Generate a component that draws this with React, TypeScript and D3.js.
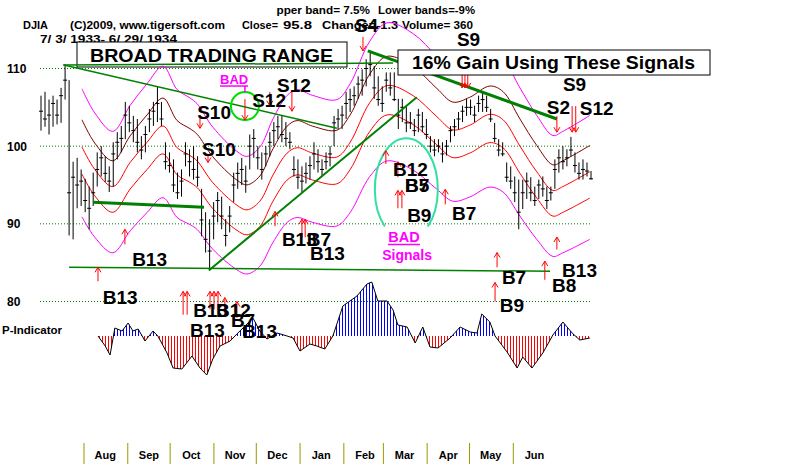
import React from "react";
import * as d3 from "d3";

// DJIA bars, 7/3/1933 - 6/29/1934
const highs = [
  106.5, 107.0, 106.0, 106.5, 106.0, 107.5, 110.5, 108.5, 98.0, 98.5,
  97.0, 95.8, 94.8, 96.6, 99.2, 100.0, 98.7, 97.4, 100.5, 101.8,
  102.6, 105.7, 105.2, 103.9, 103.5, 101.3, 102.6, 104.8, 105.7, 107.7,
  105.7, 100.5, 99.2, 98.3, 96.6, 97.0, 100.5, 99.6, 100.0, 98.7,
  94.5, 91.5, 90.6, 92.8, 94.1, 93.5, 90.6, 92.3, 96.6, 97.9,
  98.5, 97.5, 101.5, 102.2, 100.0, 99.2, 100.0, 101.8, 103.1, 103.9,
  103.9, 103.1, 101.8, 98.7, 98.3, 97.4, 97.9, 98.7, 100.5, 99.6,
  98.3, 99.2, 100.0, 103.9, 104.8, 105.2, 107.0, 107.4, 107.7, 109.0,
  109.9, 111.2, 112.3, 110.3, 109.0, 107.7, 109.5, 109.5, 109.5, 106.1,
  106.1, 105.2, 104.4, 103.5, 104.8, 104.4, 103.5, 101.3, 100.9, 100.9,
  100.5, 100.8, 102.6, 103.5, 104.4, 105.2, 106.1, 106.0, 105.2, 106.5,
  107.0, 106.5, 104.8, 103.0, 100.9, 100.5, 97.9, 97.4, 96.1, 95.7,
  95.7, 96.6, 96.0, 94.8, 95.7, 96.1, 94.8, 94.8, 98.3, 99.6,
  100.0, 99.6, 101.2, 99.2, 97.9, 98.3, 97.9, 96.8,
];
const lows = [
  102.0, 102.5, 101.5, 102.5, 102.8, 103.0, 106.0, 88.5, 88.0, 92.0,
  92.3, 91.5, 89.3, 92.3, 94.8, 96.1, 95.4, 94.1, 94.8, 98.3,
  99.2, 100.9, 101.8, 100.5, 99.2, 98.3, 99.2, 101.8, 102.6, 103.1,
  102.6, 97.0, 96.6, 94.1, 93.2, 93.5, 97.4, 96.1, 95.7, 94.8,
  88.4, 86.3, 84.1, 88.0, 90.2, 89.3, 87.1, 88.9, 92.8, 94.5,
  95.0, 94.0, 97.0, 98.5, 97.0, 95.7, 97.4, 98.7, 100.0, 100.9,
  100.5, 100.0, 99.6, 96.1, 94.5, 94.1, 95.2, 95.7, 97.0, 96.6,
  96.1, 97.0, 97.4, 100.0, 102.2, 102.2, 103.5, 104.4, 105.2, 106.1,
  106.5, 107.7, 109.0, 106.1, 105.2, 104.4, 107.0, 106.5, 105.8, 102.2,
  103.1, 101.8, 102.2, 101.3, 101.8, 101.8, 100.9, 99.2, 98.7, 99.2,
  97.9, 98.8, 100.5, 101.3, 102.2, 103.1, 103.9, 104.0, 103.1, 104.4,
  104.4, 104.4, 103.1, 100.5, 98.7, 98.7, 95.4, 94.5, 92.8, 89.3,
  91.9, 93.2, 92.9, 92.3, 93.2, 93.5, 91.9, 93.0, 94.5, 96.6,
  97.0, 97.4, 98.7, 96.6, 95.7, 95.7, 96.1, 95.7,
];
const closes = [
  104.5, 103.5, 104.0, 105.5, 104.0, 106.5, 108.5, 94.0, 96.0, 95.0,
  95.5, 93.0, 92.0, 94.0, 97.0, 98.5, 96.5, 95.5, 99.0, 100.5,
  101.0, 104.0, 103.0, 102.0, 100.5, 99.5, 101.5, 103.5, 104.5, 105.5,
  103.5, 98.0, 97.5, 95.0, 94.0, 95.5, 99.0, 98.0, 97.0, 96.0,
  90.5, 88.0, 86.5, 91.0, 93.0, 91.0, 88.5, 91.0, 95.0, 96.5,
  97.0, 95.5, 100.0, 101.0, 98.5, 97.0, 99.0, 100.5, 102.0, 102.5,
  101.5, 101.0, 100.5, 97.0, 96.0, 95.5, 96.5, 97.5, 99.0, 98.0,
  97.0, 98.0, 99.0, 103.0, 103.5, 104.0, 105.5, 106.0, 106.5, 108.0,
  108.5, 110.0, 110.5, 107.5, 106.0, 105.5, 108.5, 107.5, 106.0, 104.0,
  105.0, 103.0, 103.0, 102.0, 104.0, 102.5, 101.5, 100.0, 99.5, 100.0,
  99.0, 100.0, 102.0, 102.5, 103.5, 104.5, 105.0, 105.0, 104.0, 105.5,
  106.0, 105.0, 103.5, 101.0, 99.5, 99.0, 96.0, 95.5, 94.0, 91.5,
  94.0, 95.5, 94.0, 93.0, 95.0, 94.5, 93.0, 94.0, 97.0, 98.5,
  98.0, 98.5, 99.5, 97.5, 96.5, 97.0, 96.8, 95.8,
];

// middle band [bar index, value]; the other bands are % offsets of it
const midBand: [number, number][] = [
  [10.2, 99.9], [13.4, 97.0], [17.9, 94.8], [22.2, 97.9], [26.4, 100.5],
  [30.4, 102.6], [33.9, 99.8], [37.1, 98.8], [38.9, 98.1], [42.8, 95.3],
  [48.8, 92.4], [51.3, 91.8], [54.5, 92.9], [57.8, 96.3], [61.3, 99.1],
  [63.8, 99.8], [67.7, 99.1], [73.7, 98.6], [77.0, 100.5], [81.9, 105.6],
  [86.2, 107.8], [92.7, 106.5], [98.6, 103.8], [102.6, 102.1], [106.8, 102.7],
  [111.8, 104.1], [115.1, 103.4], [119.3, 100.0], [123.5, 96.7], [127.5, 94.3],
  [130.0, 94.8], [136.7, 96.7],
];
const bandFactors = [1.075, 1.035, 1, 0.965, 0.91];
const bandColors = ["#ff00ff", "#800000", "#ff0000", "#ff0000", "#ff00ff"];

// P-Indicator [bar index, value]
const pIndicator: [number, number][] = [
  [14.2, 0], [16.0, -10], [17.2, -19], [18.4, 8], [20.2, 5], [21.7, 13],
  [22.9, 5], [24.2, 7], [25.9, -5], [27.9, 5], [29.1, 0], [31.4, -17],
  [32.9, -32], [35.1, -33], [37.6, -20], [39.6, -32], [41.3, -39], [42.8, -23],
  [44.6, -10], [47.1, -5], [48.8, 2], [51.3, 12], [52.8, 18], [54.5, 5],
  [56.3, -3], [58.8, 3], [61.3, 0], [62.8, -2], [64.5, -15], [67.0, -8],
  [68.7, -10], [70.7, -13], [72.7, 0], [75.2, 30], [78.7, 40], [81.2, 52],
  [82.4, 54], [83.9, 35], [86.2, 35], [87.7, 26], [88.9, 11], [91.2, 9],
  [93.2, -7], [95.1, 9], [96.9, -11], [98.9, -12], [101.9, -2], [104.4, 9],
  [106.9, 4], [108.6, 3], [109.8, 22], [111.8, 14], [113.1, 0], [116.1, -16],
  [118.6, -32], [120.0, -21], [122.3, -32], [125.0, -17], [127.5, 1], [130.0, 14],
  [132.3, 3], [134.2, -4], [136.7, -2],
];

const months = ["Aug", "Sep", "Oct", "Nov", "Dec", "Jan", "Feb", "Mar", "Apr", "May", "Jun"];
const priceTicks = [110, 100, 90, 80];

// trend lines [i1, p1, i2, p2, width]
const trendLines: [number, number, number, number, number][] = [
  [5.7, 110.45, 73.7, 102.3, 1.5],
  [5.5, 110.45, 87.7, 110.7, 1.5],
  [13.0, 92.77, 40.6, 92.13, 3],
  [7.0, 84.4, 126.8, 83.9, 1.5],
  [41.8, 84.0, 93.6, 106.3, 2],
  [81.4, 112.26, 128.5, 103.5, 3],
];

// signal arrows [bar index, from, to]
const sellArrows: [number, number, number][] = [
  [80.2, 114.06, 112.26], [104.9, 109.3, 107.5], [105.6, 109.3, 107.5], [106.3, 109.3, 107.5],
  [50.8, 106.06, 103.35], [39.6, 103.7, 102.3], [41.6, 99.0, 97.9],
  [57.0, 106.97, 105.2], [62.5, 107.1, 104.5], [128.5, 103.87, 101.8],
  [132.3, 105.16, 101.8], [133.2, 105.16, 101.8],
];
const buyArrows: [number, number, number][] = [
  [14.2, 82.6, 84.4], [20.9, 87.35, 89.3], [58.3, 89.7, 91.6], [65.0, 88.26, 90.6],
  [65.8, 88.26, 90.6], [85.9, 97.7, 99.4], [88.9, 96.0, 98.0], [88.9, 92.0, 94.3],
  [89.9, 92.0, 94.3], [100.7, 92.5, 94.45], [113.6, 84.4, 86.3], [113.1, 80.0, 82.45],
  [128.5, 86.7, 88.3], [125.5, 82.8, 85.2], [35.4, 78.3, 81.3], [36.4, 78.3, 81.3],
  [42.1, 79.0, 81.3], [43.1, 79.0, 81.3], [44.1, 79.0, 81.3], [45.8, 78.1, 80.5],
  [48.8, 77.9, 80.0],
];
// signal labels [bar index, price, text]
const signalLabels: [number, number, string][] = [
  [78.2, 114.7, "S4"], [103.6, 112.9, "S9"], [130.0, 107.1, "S9"], [126.0, 104.1, "S2"],
  [134.2, 104.0, "S12"], [58.8, 107.0, "S12"], [52.6, 105.0, "S12"], [38.9, 103.5, "S10"],
  [40.1, 98.7, "S10"], [15.4, 79.7, "B13"], [22.7, 84.6, "B13"], [60.0, 87.1, "B13"],
  [66.2, 87.1, "B7"], [67.0, 85.4, "B13"], [87.7, 96.1, "B12"], [90.7, 94.1, "B5"],
  [90.7, 94.1, "B7"], [91.2, 90.3, "B9"], [102.4, 90.45, "B7"], [114.8, 82.2, "B7"],
  [114.3, 78.6, "B9"], [129.8, 83.2, "B13"], [127.3, 81.2, "B8"], [37.9, 78.06, "B13"],
  [43.6, 78.06, "B12"], [47.3, 76.77, "B7"], [37.1, 75.48, "B13"], [50.1, 75.35, "B13"],
];

const FONT = "'Liberation Sans', Arial, Helvetica, sans-serif";

const App: React.FC = () => {
  const x = d3.scaleLinear().domain([0, closes.length - 1]).range([41, 591]);
  const y = d3.scaleLinear().domain([80, 110]).range([301.5, 68.5]);
  const yInd = d3.scaleLinear().domain([-40, 55]).range([376, 281]);
  const xTime = d3.scaleTime().domain([new Date(1933, 7, 1), new Date(1934, 5, 1)]).range([84, 513.3]);
  const monthStarts = months.map((_, k) => new Date(1933, 7 + k, 1));

  const bandLine = (f: number) =>
    d3.line<[number, number]>().x((d) => x(d[0])).y((d) => y(d[1] * f)).curve(d3.curveCatmullRom.alpha(0.5))(midBand) || "";

  const indArea = d3.area<[number, number]>().x((d) => x(d[0])).y0(yInd(0)).y1((d) => yInd(d[1]))(pIndicator) || "";
  const indLine = d3.line<[number, number]>().x((d) => x(d[0])).y((d) => yInd(d[1]))(pIndicator) || "";

  const arrow = (a: [number, number, number], k: string) => {
    const ax = x(a[0]);
    const y1 = y(a[1]);
    const y2 = y(a[2]);
    const d = y2 > y1 ? -5 : 5;
    return (
      <g key={k} stroke="#ff0000" strokeWidth={1}>
        <line x1={ax} y1={y1} x2={ax} y2={y2} />
        <line x1={ax} y1={y2} x2={ax - 3} y2={y2 + d} />
        <line x1={ax} y1={y2} x2={ax + 3} y2={y2 + d} />
      </g>
    );
  };

  const circleX = x(50.8);
  const circleY = y(105.16);
  const ellX = x(91.0);
  const ellY = y(94.45);
  const erx = 31.5;
  const ery = 51;
  const edx = 21.5;
  const edy = ery * Math.sqrt(1 - (edx / erx) ** 2);

  return (
    <svg width={800} height={464} style={{ position: "absolute", left: 0, top: 0, background: "#fff" }} fontFamily={FONT}>
      <defs>
        <pattern id="redStripes" width={3} height={4} patternUnits="userSpaceOnUse">
          <rect x={0} y={0} width={1} height={4} fill="#ff0000" />
        </pattern>
        <pattern id="blueStripes" width={3} height={4} patternUnits="userSpaceOnUse">
          <rect x={0} y={0} width={1} height={4} fill="#0000ff" />
        </pattern>
        <clipPath id="clipUp">
          <rect x={0} y={0} width={800} height={yInd(0)} />
        </clipPath>
        <clipPath id="clipDown">
          <rect x={0} y={yInd(0)} width={800} height={464 - yInd(0)} />
        </clipPath>
        <clipPath id="clipHead">
          <rect x={277} y={0} width={300} height={20} />
        </clipPath>
      </defs>
      <rect width={800} height={464} fill="#fff" />

      {/* header */}
      <g fontWeight="bold" fontSize={11.5} fill="#000" lengthAdjust="spacingAndGlyphs">
        <g clipPath="url(#clipHead)">
          <text x={268} y={13.5} textLength={102} lengthAdjust="spacingAndGlyphs">Upper band= 7.5%</text>
          <text x={378} y={13.5} textLength={97} lengthAdjust="spacingAndGlyphs">Lower bands=-9%</text>
        </g>
        <text x={23} y={29} textLength={25} lengthAdjust="spacingAndGlyphs">DJIA</text>
        <text x={70} y={29} textLength={155} lengthAdjust="spacingAndGlyphs">(C)2009, www.tigersoft.com</text>
        <text x={242} y={29} textLength={36} lengthAdjust="spacingAndGlyphs">Close=</text>
        <text x={283} y={29} textLength={29} lengthAdjust="spacingAndGlyphs">95.8</text>
        <text x={322} y={29} textLength={76} lengthAdjust="spacingAndGlyphs">Change=-1.3</text>
        <text x={402} y={29} textLength={71} lengthAdjust="spacingAndGlyphs">Volume= 360</text>
        <text x={40} y={43} textLength={137} lengthAdjust="spacingAndGlyphs">7/ 3/ 1933- 6/ 29/ 1934</text>
      </g>

      {/* grid + y labels */}
      {priceTicks.map((t) => (
        <g key={t}>
          <line x1={40} x2={592} y1={y(t)} y2={y(t)} stroke="#008000" strokeDasharray="1,2" />
          <text x={7} y={y(t) + 4.5} fontSize={12} fontWeight="bold">{t}</text>
        </g>
      ))}
      <text x={2} y={334} fontSize={11.5} fontWeight="bold">P-Indicator</text>

      <rect x={77} y={42} width={270} height={25} fill="#fff" stroke="#000" />
      <text x={90} y={62} fontSize={19} fontWeight="bold" textLength={243} lengthAdjust="spacingAndGlyphs">BROAD TRADING RANGE</text>

      {/* bands */}
      {bandFactors.map((f, k) => (
        <path key={k} d={bandLine(f)} fill="none" stroke={bandColors[k]} strokeWidth={1} />
      ))}

      {/* price bars */}
      {closes.map((c, i) => (
        <g key={i} stroke="#000" strokeWidth={1}>
          <line x1={x(i)} x2={x(i)} y1={y(highs[i])} y2={y(lows[i])} />
          <line x1={x(i) - 2} x2={x(i) + 2} y1={y(c)} y2={y(c)} />
        </g>
      ))}

      {/* trend lines */}
      {trendLines.map((t, k) => (
        <line key={k} x1={x(t[0])} y1={y(t[1])} x2={x(t[2])} y2={y(t[3])} stroke="#008000" strokeWidth={t[4]} />
      ))}

      {/* P-Indicator */}
      <path d={indArea} fill="url(#blueStripes)" clipPath="url(#clipUp)" />
      <path d={indArea} fill="url(#redStripes)" clipPath="url(#clipDown)" />
      <path d={indLine} fill="none" stroke="#000" strokeWidth={1} />

      {/* annotations */}
      <circle cx={circleX} cy={circleY} r={14} fill="none" stroke="#00dd00" strokeWidth={2} />
      <path
        d={`M${ellX - edx},${ellY + edy} A${erx},${ery} 0 1 1 ${ellX + edx},${ellY + edy}`}
        fill="none"
        stroke="#33e0a0"
        strokeWidth={2}
      />
      <g fill="#ff00ff" fontWeight="bold">
        <text x={x(44.6)} y={y(108.0)} fontSize={13}>BAD</text>
        <line x1={x(44.6)} x2={x(44.6) + 28} y1={y(108.0) + 2} y2={y(108.0) + 2} stroke="#ff00ff" strokeWidth={1.5} />
        <line x1={circleX} x2={circleX} y1={y(107.74)} y2={y(106.97)} stroke="#ff00ff" strokeWidth={1.5} />
        <text x={x(90.4)} y={y(87.6)} fontSize={14.5} textAnchor="middle">BAD</text>
        <line x1={x(90.4) - 16} x2={x(90.4) + 16} y1={y(87.6) + 2} y2={y(87.6) + 2} stroke="#ff00ff" strokeWidth={1.5} />
        <text x={x(91.2)} y={y(85.4)} fontSize={14} textAnchor="middle">Signals</text>
      </g>

      {sellArrows.map((a, k) => arrow(a, "s" + k))}
      {buyArrows.map((a, k) => arrow(a, "b" + k))}

      {signalLabels.map((s, k) => (
        <text key={k} x={x(s[0])} y={y(s[1])} fontSize={19} fontWeight="bold" fill="#000">{s[2]}</text>
      ))}

      <rect x={398} y={50} width={312} height={25} fill="#fff" stroke="#000" />
      <text x={412} y={68.5} fontSize={19} fontWeight="bold" textLength={283} lengthAdjust="spacingAndGlyphs">16% Gain Using These Signals</text>

      {/* month axis */}
      {monthStarts.map((m, k) => (
        <g key={k}>
          <line x1={xTime(m)} x2={xTime(m)} y1={443} y2={464} stroke="#999900" strokeWidth={1} />
          <text x={xTime(new Date(1933, 7 + k, 16))} y={459} fontSize={11} fontWeight="bold" textAnchor="middle">{months[k]}</text>
        </g>
      ))}
    </svg>
  );
};

export default App;
